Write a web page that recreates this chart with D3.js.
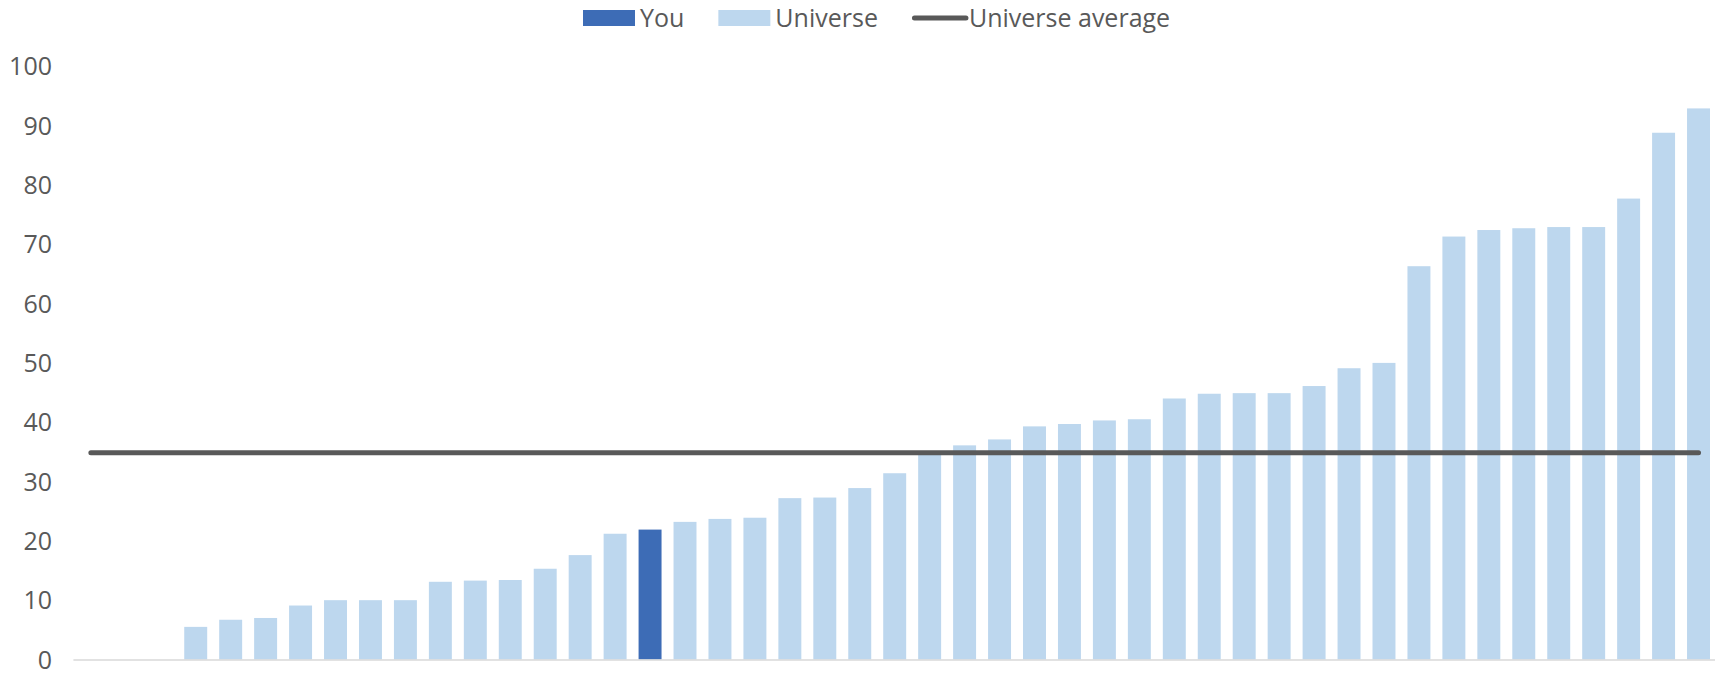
<!DOCTYPE html>
<html>
<head>
<meta charset="utf-8">
<script src="https://cdn.jsdelivr.net/npm/d3@7"></script>
<style>
  html, body { margin: 0; padding: 0; background: #ffffff; }
  svg { display: block; font-family: "Open Sans", "Noto Sans", sans-serif; }
</style>
</head>
<body>
<svg id="chart" width="1715" height="673"></svg>
<script>
// Peer group, sorted ascending; the first three peers score zero.
const categories = d3.range(1, 48).map(i => "Peer " + i);
const values = [0, 0, 0,
  5.5, 6.7, 7.0, 9.1, 10.0, 10.0, 10.0, 13.1, 13.3, 13.4, 15.3, 17.6, 21.2,
  21.9,
  23.2, 23.7, 23.9, 27.2, 27.3, 28.9, 31.4, 34.6, 36.1, 37.1, 39.3, 39.7,
  40.3, 40.5, 44.0, 44.8, 44.9, 44.9, 46.1, 49.1, 50.0, 66.3, 71.3, 72.4,
  72.7, 72.9, 72.9, 77.7, 88.8, 92.9];
const youCategory = "Peer 17";
const universeAverage = 34.87;
const yTicks = [0, 10, 20, 30, 40, 50, 60, 70, 80, 90, 100];
const legendItems = [
  { label: "You", kind: "bar", color: "#3d6cb6" },
  { label: "Universe", kind: "bar", color: "#bdd7ee" },
  { label: "Universe average", kind: "line", color: "#595959" }
];

const data = categories.map((c, i) => ({ category: c, value: values[i] }));

const svg = d3.select("#chart");
const plot = { left: 73.4, right: 1716, top: 66.3, bottom: 659.5 };
const textColor = "#595959";
const tickFont = 25;
const legendFont = 25;

const x = d3.scaleBand()
  .domain(categories)
  .range([plot.left, plot.right])
  .paddingInner(0.343)
  .paddingOuter(0.1715);

const y = d3.scaleLinear()
  .domain([0, 100])
  .range([plot.bottom, plot.top]);

// Value axis: labels only, no gridlines
const yAxis = d3.axisLeft(y)
  .tickValues(yTicks)
  .tickSize(0)
  .tickPadding(0)
  .tickFormat(d3.format("d"));

const gy = svg.append("g")
  .attr("transform", "translate(52,0)")
  .call(yAxis);
gy.select(".domain").remove();
gy.selectAll("text")
  .attr("fill", textColor)
  .attr("dy", "0.34em")
  .style("font-size", tickFont + "px")
  .style("font-family", "'Open Sans', 'Noto Sans', sans-serif");

// Bars
svg.append("g")
  .selectAll("rect")
  .data(data)
  .join("rect")
  .attr("x", d => x(d.category))
  .attr("width", x.bandwidth())
  .attr("y", d => y(d.value))
  .attr("height", d => y(0) - y(d.value))
  .attr("fill", d => d.category === youCategory ? "#3d6cb6" : "#bdd7ee");

// Category axis baseline
svg.append("line")
  .attr("x1", plot.left)
  .attr("x2", plot.right)
  .attr("y1", y(0) + 0.5)
  .attr("y2", y(0) + 0.5)
  .attr("stroke", "#d9d9d9")
  .attr("stroke-width", 1.5);

// Universe average line, spanning first to last category centre
const avgLine = d3.line()
  .x(d => x(d) + x.bandwidth() / 2)
  .y(() => y(universeAverage));

svg.append("path")
  .datum([categories[0], categories[categories.length - 1]])
  .attr("d", avgLine)
  .attr("fill", "none")
  .attr("stroke", "#595959")
  .attr("stroke-width", 5)
  .attr("stroke-linecap", "round");

// Legend
const legend = svg.append("g").attr("transform", "translate(583,18)");
let cursor = 0;
legendItems.forEach(item => {
  const g = legend.append("g").attr("transform", `translate(${cursor},0)`);
  if (item.kind === "bar") {
    g.append("rect")
      .attr("x", 0).attr("y", -8)
      .attr("width", 52).attr("height", 16)
      .attr("fill", item.color);
  } else {
    g.append("line")
      .attr("x1", 2.5).attr("x2", 54)
      .attr("y1", 0).attr("y2", 0)
      .attr("stroke", item.color)
      .attr("stroke-width", 5)
      .attr("stroke-linecap", "round");
  }
  const t = g.append("text")
    .attr("x", 57)
    .attr("y", 0)
    .attr("dy", "0.35em")
    .attr("fill", textColor)
    .style("font-size", legendFont + "px")
    .text(item.label);
  cursor += 57 + t.node().getComputedTextLength() + 34;
});
</script>
</body>
</html>
